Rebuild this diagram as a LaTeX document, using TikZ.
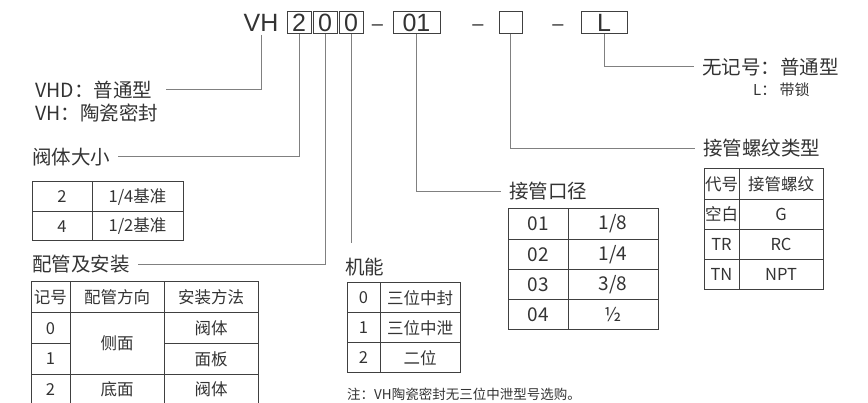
\documentclass[tikz,border=0pt]{standalone}
\usepackage{fontspec}
\setmainfont{Noto Sans CJK SC}
\newfontfamily\codefont{Liberation Sans}
\definecolor{ink}{RGB}{51,51,51}
\definecolor{leadgray}{RGB}{128,128,128}
\definecolor{tabline}{RGB}{64,64,64}
\newcommand\lblfont{\fontsize{19.5}{23}\selectfont}
\newcommand\cellfont{\fontsize{16.5}{20}\selectfont}
\newcommand\portfont{\fontsize{19}{22}\selectfont}
\newcommand\notefont{\fontsize{13.5}{16}\selectfont}
\tikzset{
  codebox/.style={draw=tabline, line width=1pt, inner sep=0pt, minimum height=22pt, minimum width=#1, font=\codefont\fontsize{25}{28}\selectfont, text=ink},
  codetext/.style={inner sep=0pt, font=\codefont\fontsize{25}{28}\selectfont, text=ink},
  codedash/.style={inner sep=0pt, anchor=base, font=\codefont\fontsize{20}{24}\selectfont, text=ink},
  lbl/.style={inner xsep=8pt, inner ysep=0pt, anchor=west, font=\lblfont, text=ink},
  cell/.style 2 args={draw=tabline, line width=1pt, inner sep=0pt, minimum width=#1, minimum height=#2, font=\cellfont, text=ink},
  lead/.style={draw=leadgray, line width=1pt}
}

\begin{document}
\begin{tikzpicture}[x=1pt,y=-1pt]
  \useasboundingbox (0,0) rectangle (868,403);
  % model code
  \node[codetext] (vh) at (261,23) {VH};
  \node[codebox=24pt] (bsize) at (299,23) {2};
  \node[codebox=24pt] (bpipe) at (325,23) {0};
  \node[codebox=24pt] (bfunc) at (351,23) {0};
  \node[codedash] (dash1) at (377.5,30.5) {–};
  \node[codebox=47pt] (bport) at (416.5,23) {01};
  \node[codedash] (dash2) at (478,30.5) {–};
  \node[codebox=23pt] (bthread) at (510.5,23) {};
  \node[codedash] (dash3) at (558,30.5) {–};
  \node[codebox=46pt] (bopt) at (604,23) {L};

  % labels
  \node[lbl] (typ1) at (27,90) {VHD：普通型};
  \node[lbl] (typ2) at (27,113) {VH：陶瓷密封};
  \node[lbl] (size) at (24,157) {阀体大小};
  \node[lbl] (pipe) at (24,264.5) {配管及安装};
  \node[lbl] (func) at (337,267) {机能};
  \node[lbl] (port) at (501,191.5) {接管口径};
  \node[lbl] (thread) at (695,148.5) {接管螺纹类型};
  \node[lbl] (opt) at (694,67) {无记号：普通型};
  \node[lbl, font=\fontsize{15}{18}\selectfont] (optl) at (745,90) {L： 带锁};
  \node[lbl, font=\notefont] (note) at (339,394) {注：VH陶瓷密封无三位中泄型号选购。};

  % leads
  \coordinate (funcend) at (351,243);
  \draw[lead] ([yshift=-3pt]vh.south) |- ([xshift=6pt]typ1.east);
  \draw[lead] (bsize.south) |- (size.east);
  \draw[lead] (bpipe.south) |- (pipe.east);
  \draw[lead] (bfunc.south) -- (funcend);
  \draw[lead] (bport.south) |- (port.west);
  \draw[lead] (bthread.south) |- (thread.west);
  \draw[lead] (bopt.south) |- (opt.west);

  % valve size
  \foreach \code/\size [count=\i from 0] in {2/{1/4基准}, 4/{1/2基准}} {
    \node[cell={60pt}{29.5pt}] (sizea\i) at (62,196.75+29.5*\i) {\code};
    \node[cell={91pt}{29.5pt}] (sizeb\i) at (137.5,196.75+29.5*\i) {\size};
  }

  % piping and mounting
  \node[cell={39pt}{30.75pt}] (pipea0) at (50.5,297.375) {记号};
  \node[cell={94pt}{30.75pt}] (pipeb0) at (117,297.375) {配管方向};
  \node[cell={94pt}{30.75pt}] (pipec0) at (211,297.375) {安装方法};
  \foreach \code/\mount [count=\i] in {0/阀体, 1/面板, 2/阀体} {
    \node[cell={39pt}{30.75pt}] (pipea\i) at (50.5,297.375+30.75*\i) {\code};
    \node[cell={94pt}{30.75pt}] (pipec\i) at (211,297.375+30.75*\i) {\mount};
  }
  \node[cell={94pt}{61.5pt}] (pipeb1) at (117,343.5) {侧面};
  \node[cell={94pt}{30.75pt}] (pipeb3) at (117,389.625) {底面};

  % function
  \foreach \code/\mode [count=\i from 0] in {0/三位中封, 1/三位中泄, 2/二位} {
    \node[cell={33pt}{30pt}] (funca\i) at (363.5,298+30*\i) {\code};
    \node[cell={80pt}{30pt}] (funcb\i) at (420,298+30*\i) {\mode};
  }

  % port size
  \foreach \code/\bore [count=\i from 0] in {01/{1/8}, 02/{1/4}, 03/{3/8}, 04/½} {
    \node[cell={60pt}{30.25pt}, font=\portfont] (porta\i) at (538,224.125+30.25*\i) {\code};
    \node[cell={90pt}{30.25pt}, font=\portfont] (portb\i) at (613,224.125+30.25*\i) {\bore};
  }

  % thread type
  \foreach \code/\thr [count=\i from 0] in {代号/接管螺纹, 空白/G, TR/RC, TN/NPT} {
    \node[cell={35pt}{30.25pt}] (threada\i) at (721.5,184.125+30.25*\i) {\code};
    \node[cell={84pt}{30.25pt}] (threadb\i) at (781,184.125+30.25*\i) {\thr};
  }
\end{tikzpicture}
\end{document}
